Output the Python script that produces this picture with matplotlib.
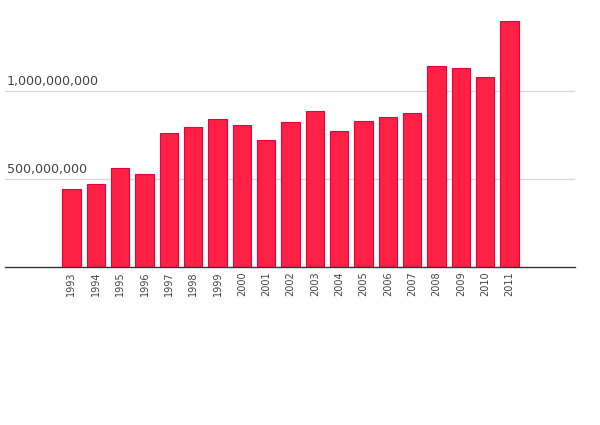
import matplotlib
matplotlib.use('Agg')
import matplotlib.pyplot as plt
import numpy as np

years = ['1993', '1994', '1995', '1996', '1997', '1998', '1999', '2000', '2001', '2002',
         '2003', '2004', '2005', '2006', '2007', '2008', '2009', '2010', '2011']
values = [443e6, 472e6, 561e6, 528e6, 761e6, 795e6, 841e6, 807e6, 722e6, 824e6,
          886e6, 773e6, 830e6, 852e6, 875e6, 1142e6, 1131e6, 1080e6, 1398e6]
y_ticks = [500e6, 1000e6]

fig = plt.figure(figsize=(6, 4.25), dpi=100)
ax = fig.add_axes([5 / 600, (425 - 267) / 425, 570 / 600, 267 / 425])

x = np.arange(len(years))
ax.bar(x, values, width=0.76, color='#ff2045', edgecolor='#e8003c', linewidth=0.8, zorder=2)

ax.set_xlim(-2.73, 20.69)
ax.set_ylim(0, 1517e6)

for t in y_ticks:
    ax.axhline(t, color='#d9d9d9', linewidth=1, zorder=1)
    ax.text(-2.65, t + 18e6, f'{int(t):,}', fontsize=9.1, color='#444444',
            ha='left', va='bottom')

ax.set_xticks(x)
ax.set_xticklabels(years, rotation=90, fontsize=7, color='#444444')
ax.tick_params(axis='x', length=0, pad=3)
ax.set_yticks([])

for side in ['top', 'right', 'left']:
    ax.spines[side].set_visible(False)
ax.spines['bottom'].set_color('#333333')
ax.spines['bottom'].set_linewidth(1)

fig.savefig('out.png', dpi=100)
